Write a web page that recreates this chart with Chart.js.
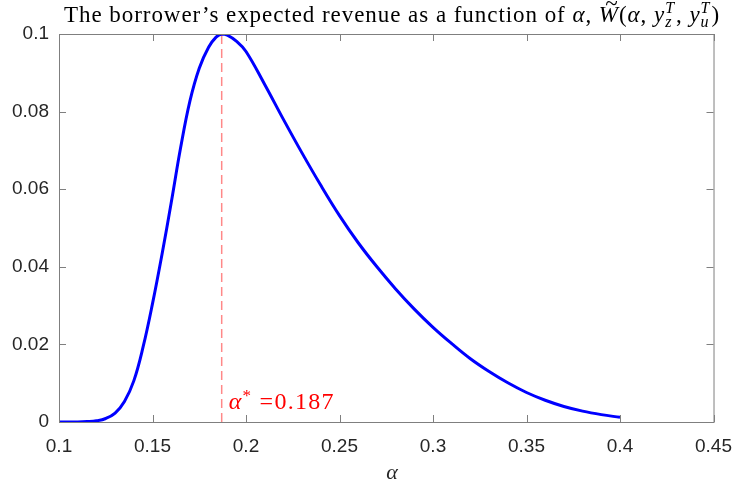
<!DOCTYPE html>
<html>
<head>
<meta charset="utf-8">
<script src="https://cdn.jsdelivr.net/npm/chart.js@4.4.1/dist/chart.umd.min.js"></script>
<style>
  html, body { margin: 0; padding: 0; background: #fff; }
  #wrap { width: 745px; height: 489px; }
</style>
</head>
<body>
<div id="wrap"><canvas id="graph" width="745" height="489"></canvas></div>
<script>
// valores
const alphaVals = [0.10, 0.11, 0.115, 0.12, 0.125, 0.13, 0.135, 0.14, 0.145, 0.15, 0.155, 0.16, 0.165, 0.17, 0.175, 0.18, 0.184, 0.187, 0.19, 0.195, 0.20, 0.21, 0.22, 0.23, 0.24, 0.25, 0.26, 0.27, 0.28, 0.29, 0.30, 0.31, 0.32, 0.33, 0.34, 0.35, 0.36, 0.37, 0.38, 0.39, 0.40];
const revenueVals = [0, 0.00002, 0.0001, 0.0003, 0.0009, 0.0023, 0.0053, 0.0106, 0.0194, 0.0305, 0.0430, 0.0565, 0.0706, 0.0827, 0.0912, 0.0966, 0.0992, 0.1, 0.0997, 0.0981, 0.0955, 0.0870, 0.0780, 0.0693, 0.0610, 0.0532, 0.0462, 0.0400, 0.0343, 0.0291, 0.0244, 0.0202, 0.0163, 0.0130, 0.0101, 0.0076, 0.0056, 0.0040, 0.0028, 0.0019, 0.0012];
const alphaStar = 0.187;
const starLine = [0, 0.1];
const xTicks = [0.1, 0.15, 0.2, 0.25, 0.3, 0.35, 0.4, 0.45];
const yTicks = [0, 0.02, 0.04, 0.06, 0.08, 0.1];

const serif = "'Liberation Serif', 'DejaVu Serif', serif";
const sans = "'Liberation Sans', Arial, sans-serif";
const axisGray = '#7f7f7f';

// dibuja texto con partes en cursiva, subindices y superindices
let drawMath = (ctx, parts, x, y, size, color, ls, dry) => {
  ctx.fillStyle = color;
  ctx.textBaseline = 'alphabetic';
  ctx.textAlign = 'left';
  ctx.letterSpacing = ls + 'px';
  let cx = x;
  parts.forEach(p => {
    if (p.stack) {
      ctx.font = (p.italic ? 'italic ' : '') + Math.round(size * 0.7) + 'px ' + serif;
      let w1 = ctx.measureText(p.sup).width;
      let w2 = ctx.measureText(p.sub).width;
      if (!dry) {
        ctx.fillText(p.sup, cx, y - size * 0.4);
        ctx.fillText(p.sub, cx, y + size * 0.22);
      }
      cx += Math.max(w1, w2) + 1;
      return;
    }
    let s = p.small ? Math.round(size * 0.7) : size;
    ctx.font = (p.italic ? 'italic ' : '') + s + 'px ' + serif;
    let w = ctx.measureText(p.t).width;
    if (!dry) {
      ctx.fillText(p.t, cx, y + (p.dy || 0) * size);
      if (p.tilde) ctx.fillText('~', cx + w * 0.3, y - size * 0.5);
    }
    cx += w;
  });
  ctx.letterSpacing = '0px';
  return cx - x;
};

// ajusta el espaciado para ocupar el ancho del original
let fitMath = (ctx, parts, x, y, size, color, width, align) => {
  let n = 0;
  parts.forEach(p => { n += p.stack ? 1 : p.t.length; });
  let w0 = drawMath(ctx, parts, 0, 0, size, color, 0, true);
  let ls = Math.max(0, (width - w0) / n);
  let x0 = align === 'center' ? x - width / 2 : x;
  drawMath(ctx, parts, x0, y, size, color, ls, false);
};

const titleParts = [
  { t: 'The borrower\u2019s expected revenue as a function of ' },
  { t: '\u03b1', italic: true },
  { t: ', ' },
  { t: 'W', italic: true, tilde: true },
  { t: '(' },
  { t: '\u03b1', italic: true },
  { t: ', ' },
  { t: 'y', italic: true },
  { stack: true, italic: true, sup: 'T', sub: 'z' },
  { t: ', ' },
  { t: 'y', italic: true },
  { stack: true, italic: true, sup: 'T', sub: 'u' },
  { t: ')' }
];

const starParts = [
  { t: '\u03b1', italic: true },
  { t: '*', small: true, dy: -0.35 },
  { t: ' =0.187' }
];

const framePlugin = {
  id: 'frame',
  afterDatasetsDraw(chart) {
    const { ctx, chartArea: a, scales } = chart;
    ctx.save();
    ctx.strokeStyle = axisGray;
    ctx.lineWidth = 1;
    ctx.strokeRect(a.left + 0.5, a.top + 0.5, a.right - a.left, a.bottom - a.top);
    ctx.beginPath();
    xTicks.forEach(v => {
      let px = Math.round(scales.x.getPixelForValue(v)) + 0.5;
      ctx.moveTo(px, a.bottom); ctx.lineTo(px, a.bottom - 7);
      ctx.moveTo(px, a.top); ctx.lineTo(px, a.top + 7);
    });
    yTicks.forEach(v => {
      let py = Math.round(scales.y.getPixelForValue(v)) + 0.5;
      ctx.moveTo(a.left, py); ctx.lineTo(a.left + 7, py);
      ctx.moveTo(a.right, py); ctx.lineTo(a.right - 7, py);
    });
    ctx.stroke();

    // titulo
    fitMath(ctx, titleParts, 392, 22, 23, '#000', 656, 'center');

    // etiqueta del eje x
    ctx.font = 'italic 22px ' + serif;
    ctx.fillStyle = '#262626';
    ctx.textAlign = 'center';
    ctx.textBaseline = 'alphabetic';
    ctx.fillText('\u03b1', 392, 479);

    // anotacion alpha*
    let sx = scales.x.getPixelForValue(alphaStar);
    fitMath(ctx, starParts, sx + 7, a.bottom - 13, 24, '#ff0000', 106, 'left');
    ctx.restore();
  }
};

const configRevenue = {
  type: 'line',
  data: {
    datasets: [
      {
        label: 'revenue',
        data: alphaVals.map((a, i) => ({ x: a, y: revenueVals[i] })),
        borderColor: '#0000ff',
        borderWidth: 3,
        pointRadius: 0,
        fill: false,
        tension: 0.4
      },
      {
        label: 'alpha star',
        data: starLine.map(v => ({ x: alphaStar, y: v })),
        borderColor: '#ff8888',
        borderWidth: 1.5,
        borderDash: [9, 5],
        pointRadius: 0,
        fill: false
      }
    ]
  },
  options: {
    responsive: false,
    animation: false,
    layout: { padding: { top: 34, right: 21, left: 0, bottom: 0 } },
    plugins: {
      legend: { display: false },
      title: { display: false },
      tooltip: { enabled: false }
    },
    scales: {
      x: {
        type: 'linear',
        min: 0.1,
        max: 0.45,
        afterBuildTicks: s => { s.ticks = xTicks.map(v => ({ value: v })); },
        afterFit: s => { s.height = 67; },
        grid: { display: false, drawTicks: false },
        border: { display: false },
        ticks: {
          color: '#262626',
          padding: 13,
          maxRotation: 0,
          font: { family: sans, size: 19 },
          callback: v => String(Number(v.toFixed(2)))
        }
      },
      y: {
        type: 'linear',
        min: 0,
        max: 0.1,
        afterBuildTicks: s => { s.ticks = yTicks.map(v => ({ value: v })); },
        afterFit: s => { s.width = 59; },
        grid: { display: false, drawTicks: false },
        border: { display: false },
        ticks: {
          color: '#262626',
          padding: 10,
          font: { family: sans, size: 19 },
          callback: v => String(Number(v.toFixed(2)))
        }
      }
    }
  },
  plugins: [framePlugin]
};

const chartRevenue = new Chart(document.querySelector('#graph'), configRevenue);
</script>
</body>
</html>
